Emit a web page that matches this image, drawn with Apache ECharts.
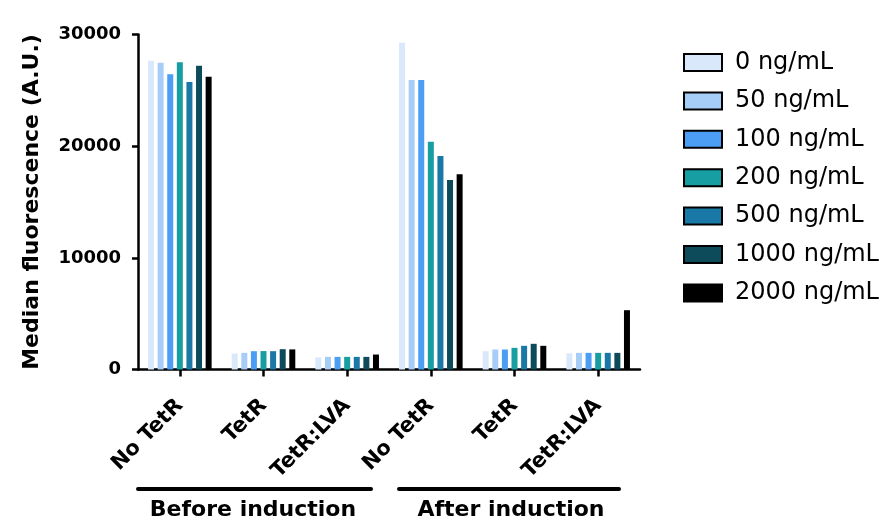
<!DOCTYPE html>
<html>
<head>
<meta charset="utf-8">
<script src="https://cdn.jsdelivr.net/npm/echarts@6/dist/echarts.min.js"></script>
<style>
html,body{margin:0;padding:0;background:#fff;}
#chart{width:893px;height:528px;}
</style>
</head>
<body>
<div id="chart"></div>
<script>
var categories = ['No TetR', 'TetR', 'TetR:LVA', 'No TetR', 'TetR', 'TetR:LVA'];
var seriesNames = ['0 ng/mL', '50 ng/mL', '100 ng/mL', '200 ng/mL', '500 ng/mL', '1000 ng/mL', '2000 ng/mL'];
var conc0    = [27650, 1430, 1080, 29270, 1640, 1450];
var conc50   = [27480, 1490, 1130, 25930, 1790, 1490];
var conc100  = [26430, 1640, 1130, 25930, 1790, 1490];
var conc200  = [27510, 1650, 1130, 20400, 1940, 1490];
var conc500  = [25740, 1640, 1130, 19120, 2120, 1490];
var conc1000 = [27210, 1820, 1130, 16970, 2300, 1490];
var conc2000 = [26220, 1800, 1340, 17480, 2120, 5310];
var groupLabels = ['Before induction', 'After induction'];
var yTicks = [0, 10000, 20000, 30000];

var seriesValues = [conc0, conc50, conc100, conc200, conc500, conc1000, conc2000];
var colors = ['#d9e9fb', '#a6cdf7', '#4c9ef4', '#179ea3', '#1a78a6', '#0e4b5a', '#000000'];
var FONT = "'DejaVu Sans', sans-serif";

var chart = echarts.init(document.getElementById('chart'), null, {renderer: 'canvas'});

var series = seriesNames.map(function (name, i) {
  return {
    name: name,
    type: 'bar',
    data: seriesValues[i],
    barWidth: 6,
    barGap: '60%',
    itemStyle: {color: colors[i]},
    emphasis: {disabled: true},
    animation: false
  };
});

var option = {
  animation: false,
  backgroundColor: '#fff',
  grid: {left: 138, top: 34.5, width: 502, bottom: 158.5, containLabel: false},
  legend: {
    orient: 'vertical',
    left: 678,
    top: 45.5,
    itemWidth: 38,
    itemHeight: 17,
    itemGap: 14.4,
    icon: 'rect',
    itemStyle: {borderColor: '#000', borderWidth: 2},
    textStyle: {fontFamily: FONT, fontSize: 24, color: '#000', lineHeight: 24, padding: [0, 0, 0, 8]},
    data: seriesNames,
    selectedMode: false
  },
  xAxis: {
    type: 'category',
    data: categories,
    axisLine: {show: true, lineStyle: {color: '#000', width: 2.5}},
    axisTick: {show: true, alignWithLabel: true, length: 7, lineStyle: {color: '#000', width: 2.5}},
    axisLabel: {
      interval: 0,
      rotate: 45,
      margin: 33,
      fontFamily: FONT,
      fontWeight: 'bold',
      fontSize: 21,
      color: '#000'
    },
    splitLine: {show: false}
  },
  yAxis: {
    type: 'value',
    min: yTicks[0],
    max: yTicks[yTicks.length - 1],
    interval: yTicks[1] - yTicks[0],
    name: 'Median fluorescence (A.U.)',
    nameLocation: 'middle',
    nameGap: 95,
    nameTextStyle: {fontFamily: FONT, fontWeight: 'bold', fontSize: 22, color: '#000'},
    axisLine: {show: true, lineStyle: {color: '#000', width: 2.5}},
    axisTick: {show: true, length: 6, lineStyle: {color: '#000', width: 2.5}},
    axisLabel: {
      margin: 17,
      fontFamily: FONT,
      fontWeight: 'bold',
      fontSize: 18,
      color: '#000',
      formatter: function (v) { return String(v); }
    },
    splitLine: {show: false}
  },
  graphic: [
    {type: 'line', shape: {x1: 138, y1: 489, x2: 371, y2: 489}, style: {stroke: '#000', lineWidth: 4, lineCap: 'round'}},
    {type: 'line', shape: {x1: 399, y1: 489, x2: 619, y2: 489}, style: {stroke: '#000', lineWidth: 4, lineCap: 'round'}},
    {type: 'text', x: 253, y: 510, style: {text: groupLabels[0], align: 'center', verticalAlign: 'middle', font: "bold 22px 'DejaVu Sans', sans-serif", fill: '#000'}},
    {type: 'text', x: 511, y: 510, style: {text: groupLabels[1], align: 'center', verticalAlign: 'middle', font: "bold 22px 'DejaVu Sans', sans-serif", fill: '#000'}}
  ],
  series: series
};

chart.setOption(option);
</script>
</body>
</html>
